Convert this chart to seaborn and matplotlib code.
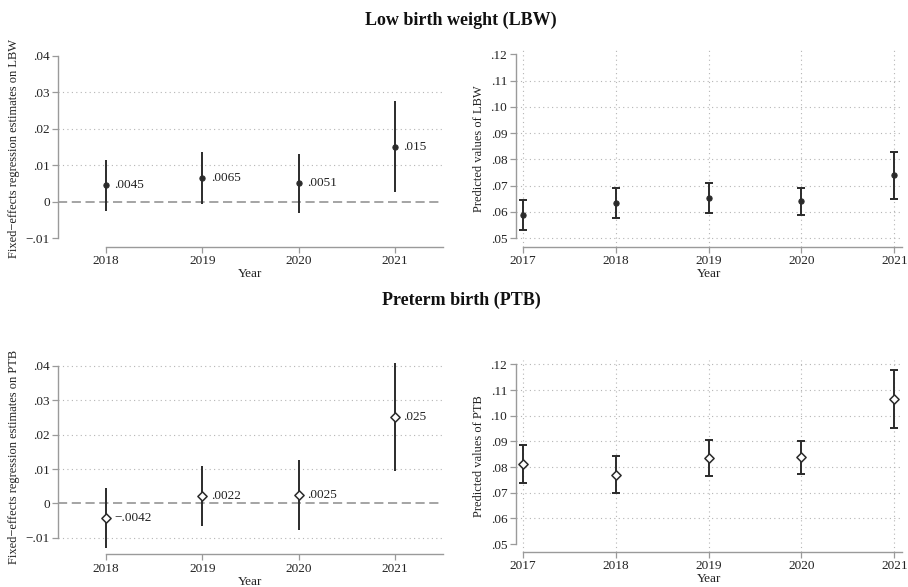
import matplotlib
matplotlib.use('Agg')
import matplotlib.pyplot as plt
import matplotlib.ticker as mticker
import seaborn as sns
import pandas as pd

# data
fe_years = [2018, 2019, 2020, 2021]
lbw_est = [0.0045, 0.0065, 0.0051, 0.015]
lbw_lo = [-0.0025, -0.0006, -0.0030, 0.0026]
lbw_hi = [0.0114, 0.0136, 0.0132, 0.0275]
ptb_est = [-0.0042, 0.0022, 0.0025, 0.025]
ptb_lo = [-0.0130, -0.0066, -0.0076, 0.0095]
ptb_hi = [0.0046, 0.0109, 0.0127, 0.0408]

pred_years = [2017, 2018, 2019, 2020, 2021]
lbw_pred = [0.0589, 0.0634, 0.0655, 0.0640, 0.0739]
lbw_pred_lo = [0.0532, 0.0576, 0.0598, 0.0590, 0.0651]
lbw_pred_hi = [0.0646, 0.0691, 0.0711, 0.0691, 0.0829]
ptb_pred = [0.0812, 0.0770, 0.0834, 0.0838, 0.1065]
ptb_pred_lo = [0.0739, 0.0698, 0.0764, 0.0774, 0.0953]
ptb_pred_hi = [0.0885, 0.0842, 0.0906, 0.0902, 0.1178]

fe_ticks = [-0.01, 0, 0.01, 0.02, 0.03, 0.04]
pred_ticks = [0.05, 0.06, 0.07, 0.08, 0.09, 0.10, 0.11, 0.12]

# which y gridlines are drawn in each panel (stata drops some near the edges)
lbw_fe_grid = [0.01, 0.02, 0.03]
ptb_fe_grid = [-0.01, 0.01, 0.02, 0.03, 0.04]
lbw_pred_grid = [0.05, 0.06, 0.07, 0.08, 0.09, 0.10, 0.11]
ptb_pred_grid = [0.06, 0.07, 0.08, 0.09, 0.10, 0.11, 0.12]

sns.set_theme(style='white')
plt.rcParams['font.family'] = ['Liberation Serif', 'DejaVu Serif']
plt.rcParams['axes.unicode_minus'] = True

W, H = 908, 587
fig = plt.figure(figsize=(W / 100, H / 100), dpi=100)


def px_axes(x0, x1, y0, y1):
    # pixel box -> figure axes
    return fig.add_axes([x0 / W, 1 - y1 / H, (x1 - x0) / W, (y1 - y0) / H])


def stata_fmt(v, pos=None):
    if abs(v) < 1e-12:
        return '0'
    s = f'{abs(v):.2f}'.lstrip('0')
    return ('\u2212' if v < 0 else '') + s


def lab_fmt(v):
    s = f'{abs(v):.2g}'.lstrip('0')
    return ('\u2212' if v < 0 else '') + s


GRID = dict(color='#b5b5b5', lw=0.8, ls=(0, (1, 3)), zorder=0)
INK = '#2b2b2b'
AX_GRAY = '#9a9a9a'


def style_axes(ax, xticks, yticks, xlim, ylim, ylabel, hgrid, vgrid):
    ax.set_xlim(*xlim)
    ax.set_ylim(*ylim)
    ax.set_xticks(xticks)
    ax.set_yticks(yticks)
    ax.yaxis.set_major_formatter(mticker.FuncFormatter(stata_fmt))
    ax.set_xticklabels([str(y) for y in xticks])
    for s in ['top', 'right']:
        ax.spines[s].set_visible(False)
    for s in ['left', 'bottom']:
        ax.spines[s].set_color(AX_GRAY)
        ax.spines[s].set_linewidth(1.0)
    ax.spines['left'].set_bounds(yticks[0], yticks[-1])
    ax.spines['bottom'].set_bounds(xticks[0], xlim[1])
    ax.tick_params(axis='both', direction='out', length=4, width=0.9,
                   color=AX_GRAY, labelsize=9.5, pad=2, labelcolor='#222222',
                   bottom=True, left=True)
    ax.set_facecolor('white')
    for t in hgrid:
        ax.axhline(t, **GRID)
    if vgrid:
        for t in xticks:
            ax.axvline(t, **GRID)
    ax.set_xlabel('Year', fontsize=9.5, labelpad=1, color='#222222')
    ax.set_ylabel(ylabel, fontsize=9, labelpad=4, color='#222222')


def draw_points(ax, df, marker):
    if marker == 'o':
        sns.scatterplot(data=df, x='year', y='est', ax=ax, marker='o', s=14,
                        color=INK, edgecolor=INK, linewidth=0.8, zorder=3)
    else:
        sns.scatterplot(data=df, x='year', y='est', ax=ax, marker='D', s=22,
                        facecolor='white', edgecolor=INK, linewidth=1.1, zorder=3)


def fe_panel(ax, est, lo, hi, marker, ylabel, ylim, hgrid):
    df = pd.DataFrame({'year': fe_years, 'est': est, 'lo': lo, 'hi': hi})
    style_axes(ax, fe_years, fe_ticks, (2017.5, 2021.5), ylim, ylabel, hgrid, False)
    ax.axhline(0, color='#8c8c8c', lw=1.1, ls=(0, (6, 3)), zorder=1)
    ax.vlines(df['year'], df['lo'], df['hi'], color=INK, lw=1.4, zorder=2)
    draw_points(ax, df, marker)
    for x, y in zip(df['year'], df['est']):
        ax.annotate(lab_fmt(y), (x, y), xytext=(6, 0), textcoords='offset points',
                    va='center', ha='left', fontsize=9.5, color='#222222')
    ax.set_xlabel('Year')


def pred_panel(ax, est, lo, hi, marker, ylabel, ylim, hgrid):
    df = pd.DataFrame({'year': pred_years, 'est': est, 'lo': lo, 'hi': hi})
    style_axes(ax, pred_years, pred_ticks, (2016.92, 2021.08), ylim, ylabel, hgrid, True)
    ax.errorbar(df['year'], df['est'],
                yerr=[df['est'] - df['lo'], df['hi'] - df['est']],
                fmt='none', ecolor=INK, elinewidth=1.4, capsize=3, capthick=1.4, zorder=2)
    draw_points(ax, df, marker)
    ax.set_xlabel('Year')


ax1 = px_axes(58, 443, 50, 246.7)
fe_panel(ax1, lbw_est, lbw_lo, lbw_hi, 'o',
         'Fixed\u2212effects regression estimates on LBW', (-0.0123, 0.0416), lbw_fe_grid)
ax2 = px_axes(515.7, 901.7, 50, 246.7)
pred_panel(ax2, lbw_pred, lbw_pred_lo, lbw_pred_hi, 'o',
           'Predicted values of LBW', (0.0468, 0.1216), lbw_pred_grid)
ax3 = px_axes(58, 443, 360, 554.3)
fe_panel(ax3, ptb_est, ptb_lo, ptb_hi, 'D',
         'Fixed\u2212effects regression estimates on PTB', (-0.0148, 0.0417), ptb_fe_grid)
ax4 = px_axes(515.7, 901.7, 360, 551.7)
pred_panel(ax4, ptb_pred, ptb_pred_lo, ptb_pred_hi, 'D',
           'Predicted values of PTB', (0.047, 0.1217), ptb_pred_grid)

fig.text(0.508, 1 - 20 / H, 'Low birth weight (LBW)', ha='center', va='center',
         fontsize=13, fontweight='bold', color='#111111')
fig.text(0.508, 1 - 300 / H, 'Preterm birth (PTB)', ha='center', va='center',
         fontsize=13, fontweight='bold', color='#111111')

fig.savefig('out.png', dpi=100, facecolor='white')
